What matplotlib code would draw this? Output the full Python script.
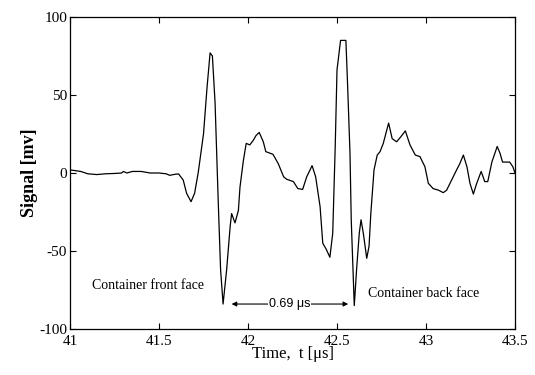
import numpy as np
import matplotlib
matplotlib.use("Agg")
import matplotlib.pyplot as plt

# waveform (time in us, signal in mV)
t_us = [41.00, 41.03, 41.06, 41.10, 41.15, 41.20, 41.25, 41.29, 41.30, 41.32,
        41.35, 41.40, 41.45, 41.50, 41.54, 41.56, 41.59, 41.61, 41.636, 41.655,
        41.68, 41.70, 41.72, 41.75, 41.77, 41.787, 41.80, 41.815, 41.833, 41.846,
        41.86, 41.88, 41.90, 41.908, 41.927, 41.946, 41.955, 41.974, 41.99, 42.01,
        42.03, 42.045, 42.063, 42.086, 42.10, 42.14, 42.17, 42.20, 42.217, 42.255,
        42.28, 42.307, 42.33, 42.36, 42.38, 42.405, 42.42, 42.44, 42.46, 42.476,
        42.49, 42.50, 42.52, 42.55, 42.56, 42.573, 42.58, 42.597, 42.61, 42.625,
        42.635, 42.648, 42.667, 42.68, 42.69, 42.708, 42.726, 42.742, 42.76, 42.79,
        42.81, 42.835, 42.857, 42.884, 42.91, 42.94, 42.966, 42.994, 43.013, 43.04,
        43.07, 43.097, 43.116, 43.144, 43.172, 43.19, 43.21, 43.23, 43.247, 43.266,
        43.285, 43.31, 43.33, 43.347, 43.37, 43.40, 43.416, 43.43, 43.47, 43.488,
        43.50]
signal = [2.0, 1.5, 1.0, -0.5, -1.0, -0.5, -0.3, 0.0, 1.0, 0.0,
          1.0, 1.0, 0.0, 0.0, -0.5, -1.5, -0.8, -0.6, -4.5, -13.0,
          -18.4, -13.0, 0.0, 25.0, 55.0, 77.0, 75.0, 45.0, -19.0, -62.0,
          -84.0, -62.0, -34.0, -26.0, -32.0, -24.0, -9.0, 8.0, 19.0, 18.0,
          21.0, 24.0, 26.0, 20.0, 13.7, 12.0, 6.0, -2.4, -4.0, -5.5,
          -10.0, -10.5, -2.4, 4.7, -2.4, -21.6, -45.0, -49.0, -54.0, -38.7,
          17.0, 66.0, 85.0, 85.0, 55.0, 12.6, -30.0, -85.0, -62.0, -38.7,
          -30.0, -38.7, -54.7, -47.0, -26.0, 2.0, 11.5, 13.7, 19.0, 32.0,
          22.0, 20.0, 23.0, 27.0, 18.0, 11.5, 10.5, 4.0, -6.6, -10.0,
          -11.0, -12.6, -11.0, -4.5, 2.0, 6.0, 11.5, 4.0, -6.6, -13.5,
          -6.6, 1.0, -5.5, -5.5, 7.0, 17.0, 12.6, 7.0, 7.0, 4.0,
          0.0]

front_label = "Container front face"
back_label = "Container back face"
gap_start, gap_end = 41.908, 42.563
gap_label = "0.69 \u03bcs"

x_ticks = [41, 41.5, 42, 42.5, 43, 43.5]
x_ticklabels = ["41", "41.5", "42", "42.5", "43", "43.5"]
y_ticks = [-100, -50, 0, 50, 100]

plt.rcParams["font.family"] = "Liberation Serif"
plt.rcParams["axes.unicode_minus"] = False

fig = plt.figure(figsize=(5.35, 3.75), dpi=100)
ax = fig.add_axes([70 / 535, 1 - 329 / 375, 445 / 535, 312 / 375])

ax.plot(t_us, signal, color="black", lw=0.9)

ax.set_xlim(41, 43.5)
ax.set_ylim(-100, 100)
ax.set_xticks(x_ticks)
ax.set_xticklabels(x_ticklabels)
ax.set_yticks(y_ticks)
ax.tick_params(direction="in", top=True, right=True, length=4, width=0.8,
               labelsize=11, pad=2)
ax.tick_params(axis="x", pad=4)
for s in ax.spines.values():
    s.set_linewidth(0.9)

ax.set_xlabel("Time,  t [\u03bcs]", fontsize=12, labelpad=-1)
ax.set_ylabel("Signal [mv]", fontsize=13, fontweight="bold", labelpad=1)

ax.text(41.124, -72, front_label, fontsize=10, va="center", ha="left")
ax.text(42.674, -77, back_label, fontsize=10, va="center", ha="left")

ax.annotate("", xy=(gap_start, -84), xytext=(gap_end, -84),
            arrowprops=dict(arrowstyle="<|-|>", color="black", lw=0.8,
                            mutation_scale=7, shrinkA=0, shrinkB=0))
ax.text((gap_start + gap_end) / 2, -84, gap_label, fontsize=9,
        family="Liberation Sans", ha="center", va="center",
        bbox=dict(facecolor="white", edgecolor="none", pad=0.5))

fig.savefig("out.png", dpi=100)
